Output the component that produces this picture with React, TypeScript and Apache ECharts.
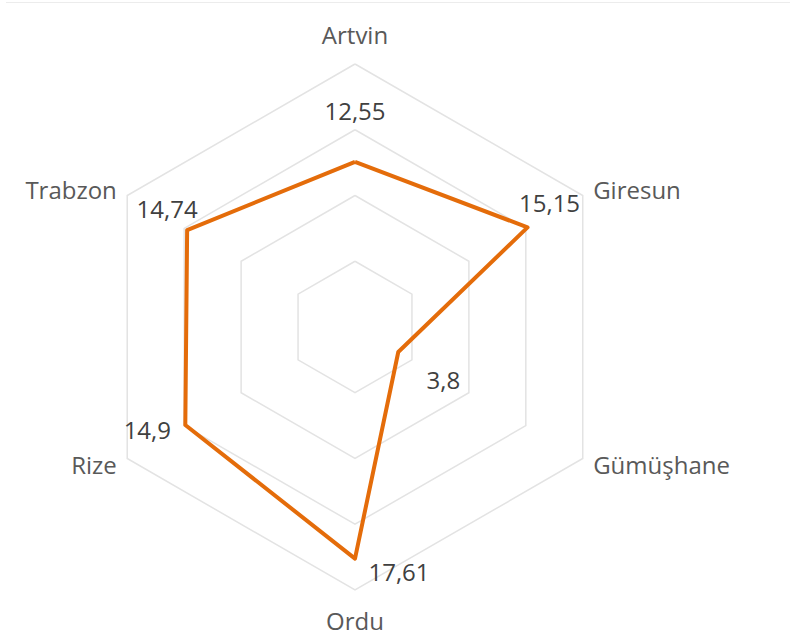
import React, { useEffect, useRef } from "react";
import * as echarts from "echarts";

// Data in the reference's clockwise order (starting at the top)
const categories = ["Artvin", "Giresun", "Gümüşhane", "Ordu", "Rize", "Trabzon"];
const values = [12.55, 15.15, 3.8, 17.61, 14.9, 14.74];
const axisMax = 20;

// label offsets (style only) relative to each point, same order as categories
const labelOffsets: number[][] = [
  [0, -51],
  [22, -25],
  [45, 28],
  [44, 13],
  [-38, 5],
  [-20, -22],
];

const ORANGE = "#E46C0A";
const FONT = "'Open Sans', 'Noto Sans', sans-serif";

export default function App() {
  const ref = useRef<HTMLDivElement>(null);

  useEffect(() => {
    if (!ref.current) return;
    const chart = echarts.init(ref.current, undefined, { renderer: "svg" });

    // ECharts places indicators counter-clockwise; reorder so they run clockwise
    const order = [0, 5, 4, 3, 2, 1];
    const indicator = order.map((i) => ({ name: categories[i], max: axisMax, min: 0 }));
    const vals = order.map((i) => values[i]);
    const fmt = (v: number) => String(v).replace(".", ",");

    const labelItems = order.map((i) => ({
      value: vals,
      symbol: "circle",
      symbolSize: 1,
      itemStyle: { color: "rgba(0,0,0,0)", borderWidth: 0 },
      lineStyle: { width: 0, opacity: 0 },
      label: {
        show: true,
        position: "inside",
        offset: labelOffsets[i],
        color: "#404040",
        fontSize: 24,
        fontFamily: FONT,
        formatter: (p: any) => (p.value === values[i] ? fmt(values[i]) : ""),
      },
    }));

    chart.setOption({
      animation: false,
      backgroundColor: "#ffffff",
      graphic: [
        {
          type: "line",
          silent: true,
          shape: { x1: 6, y1: 2.5, x2: 790, y2: 2.5 },
          style: { stroke: "#ececec", lineWidth: 1 },
        },
      ],
      radar: {
        center: [355, 327],
        radius: 263,
        startAngle: 90,
        splitNumber: 4,
        shape: "polygon",
        indicator,
        axisName: {
          color: "#595959",
          fontSize: 24,
          lineHeight: 36,
          fontFamily: FONT,
        },
        nameGap: 12,
        axisLine: { show: false },
        axisTick: { show: false },
        axisLabel: { show: false },
        splitArea: { show: false },
        splitLine: { lineStyle: { color: "#e3e3e3", width: 1.5 } },
      },
      series: [
        {
          type: "radar",
          silent: true,
          data: [
            {
              value: vals,
              symbol: "none",
              lineStyle: { color: ORANGE, width: 4 },
              label: { show: false },
            },
            ...labelItems,
          ],
        },
      ],
    });

    return () => chart.dispose();
  }, []);

  return (
    <div
      ref={ref}
      style={{ position: "fixed", left: 0, top: 0, width: 790, height: 640, background: "#fff" }}
    />
  );
}
